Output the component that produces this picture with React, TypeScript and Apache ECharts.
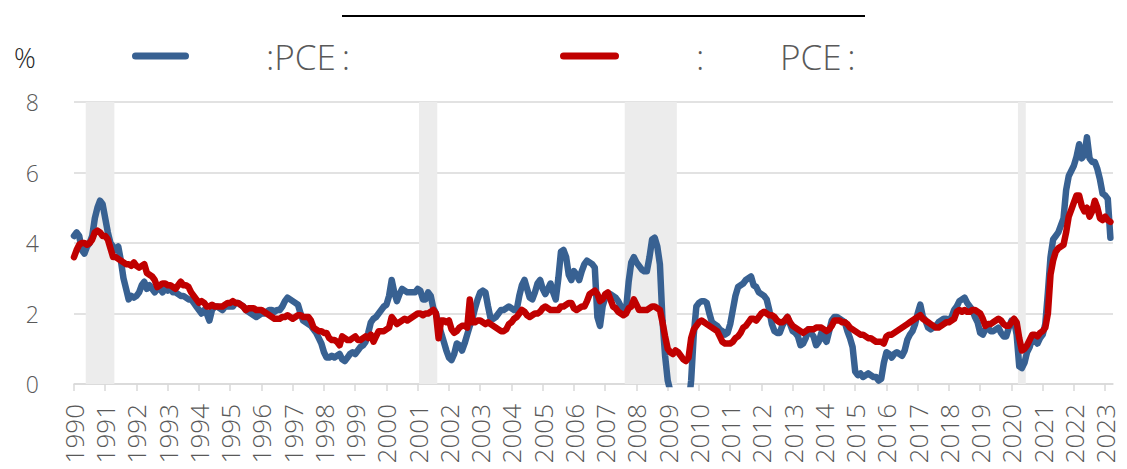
import React, { useEffect, useRef } from "react";
import * as echarts from "echarts";

const startYear = 1990;
const yearLabels = [
  "1990", "1991", "1992", "1993", "1994", "1995", "1996", "1997", "1998", "1999",
  "2000", "2001", "2002", "2003", "2004", "2005", "2006", "2007", "2008", "2009",
  "2010", "2011", "2012", "2013", "2014", "2015", "2016", "2017", "2018", "2019",
  "2020", "2021", "2022", "2023",
];
const yTicks = [0, 2, 4, 6, 8];

const seriesNames = [":PCE:", ":PCE:"];
const redLegendParts = [":", "PCE\u2009:"];

// monthly YoY, Jan 1990 .. Mar 2023
const pce = [
  4.2, 4.3, 4.2, 3.8, 3.7, 3.9, 4.0, 4.2, 4.7, 5.0, 5.2, 5.1,
  4.7, 4.3, 4.0, 3.9, 3.8, 3.9, 3.5, 3.0, 2.7, 2.4, 2.5, 2.45,
  2.5, 2.6, 2.8, 2.9, 2.7, 2.8, 2.7, 2.6, 2.7, 2.7, 2.6, 2.7,
  2.65, 2.7, 2.6, 2.6, 2.55, 2.5, 2.5, 2.45, 2.4, 2.4, 2.3, 2.2,
  2.1, 2.0, 2.1, 2.0, 1.8, 2.1, 2.2, 2.2, 2.15, 2.1, 2.2, 2.2,
  2.2, 2.2, 2.3, 2.3, 2.25, 2.2, 2.1, 2.05, 2.0, 1.95, 1.9, 1.95,
  2.0, 2.0, 2.05, 2.1, 2.1, 2.05, 2.1, 2.1, 2.2, 2.35, 2.45, 2.4,
  2.35, 2.3, 2.25, 2.0, 1.8, 1.75, 1.7, 1.65, 1.55, 1.45, 1.3, 1.15,
  0.9, 0.75, 0.75, 0.8, 0.75, 0.8, 0.85, 0.7, 0.65, 0.75, 0.85, 0.9,
  0.85, 0.95, 1.05, 1.1, 1.2, 1.45, 1.75, 1.85, 1.9, 2.0, 2.1, 2.2,
  2.25, 2.5, 2.95, 2.6, 2.35, 2.55, 2.7, 2.65, 2.6, 2.6, 2.6, 2.6,
  2.7, 2.65, 2.4, 2.4, 2.6, 2.5, 2.15, 2.0, 1.7, 1.45, 1.2, 0.95,
  0.75, 0.68, 0.85, 1.15, 1.1, 0.95, 1.15, 1.4, 1.65, 1.85, 2.15, 2.4,
  2.6, 2.65, 2.6, 2.2, 1.85, 1.85, 1.9, 2.0, 2.1, 2.1, 2.15, 2.2,
  2.15, 2.1, 2.1, 2.5, 2.8, 2.95, 2.7, 2.45, 2.4, 2.6, 2.85, 2.95,
  2.7, 2.55, 2.7, 2.85, 2.6, 2.4, 3.0, 3.75, 3.8, 3.6, 3.1, 2.95,
  3.2, 3.1, 2.95, 3.2, 3.4, 3.5, 3.45, 3.4, 3.3, 1.9, 1.65, 2.2,
  2.45, 2.5, 2.55, 2.5, 2.45, 2.35, 2.2, 2.0, 2.1, 2.9, 3.45, 3.6,
  3.45, 3.35, 3.25, 3.2, 3.2, 3.6, 4.1, 4.15, 3.9, 3.4, 1.8, 0.8,
  0.1, -0.2, -0.5, -0.6, -0.7, -0.6, -1.2, -1.0, -0.6, 0.1, 1.4, 2.2,
  2.3, 2.35, 2.35, 2.3, 2.0, 1.75, 1.7, 1.65, 1.55, 1.5, 1.4, 1.45,
  1.7, 2.1, 2.5, 2.75, 2.8, 2.85, 2.95, 3.0, 3.05, 2.8, 2.75, 2.6,
  2.55, 2.5, 2.4, 2.1, 1.7, 1.5, 1.45, 1.45, 1.65, 1.8, 1.9, 1.7,
  1.5, 1.45, 1.35, 1.1, 1.15, 1.3, 1.55, 1.45, 1.35, 1.1, 1.2, 1.45,
  1.3, 1.2, 1.5, 1.8, 1.9, 1.9, 1.85, 1.8, 1.75, 1.5, 1.3, 1.05,
  0.35, 0.25, 0.3, 0.2, 0.25, 0.3, 0.25, 0.2, 0.2, 0.1, 0.15, 0.6,
  0.9, 0.85, 0.75, 0.85, 0.9, 0.85, 0.8, 0.95, 1.25, 1.4, 1.5, 1.7,
  2.0, 2.25, 1.9, 1.8, 1.6, 1.55, 1.6, 1.65, 1.75, 1.8, 1.85, 1.85,
  1.8, 1.9, 2.1, 2.2, 2.35, 2.4, 2.45, 2.3, 2.2, 2.1, 1.9, 1.75,
  1.45, 1.4, 1.55, 1.6, 1.5, 1.5, 1.55, 1.6, 1.45, 1.35, 1.35, 1.6,
  1.8, 1.8, 1.4, 0.5, 0.45, 0.6, 0.9, 1.05, 1.3, 1.25, 1.15, 1.3,
  1.4, 1.7, 2.6, 3.6, 4.1, 4.2, 4.3, 4.5, 4.7, 5.5, 5.9, 6.05,
  6.2, 6.45, 6.8, 6.4, 6.5, 7.0, 6.4, 6.3, 6.3, 6.1, 5.8, 5.4,
  5.35, 5.25, 4.15,
];

const corePce = [
  3.6, 3.8, 3.95, 4.0, 4.0, 3.95, 4.0, 4.1, 4.3, 4.35, 4.3, 4.2,
  4.2, 4.1, 3.85, 3.6, 3.6, 3.55, 3.5, 3.45, 3.4, 3.4, 3.35, 3.45,
  3.35, 3.3, 3.35, 3.4, 3.15, 3.1, 3.05, 2.95, 2.75, 2.8, 2.85, 2.85,
  2.8, 2.8, 2.75, 2.7, 2.8, 2.9, 2.8, 2.8, 2.75, 2.6, 2.5, 2.4,
  2.3, 2.35, 2.3, 2.2, 2.2, 2.25, 2.2, 2.2, 2.2, 2.2, 2.25, 2.3,
  2.3, 2.35, 2.3, 2.3, 2.25, 2.2, 2.1, 2.15, 2.15, 2.15, 2.1, 2.1,
  2.1, 2.05, 2.0, 1.95, 1.9, 1.85, 1.85, 1.85, 1.9, 1.9, 1.95, 1.9,
  1.85, 1.9, 1.95, 1.95, 1.9, 1.9, 1.9, 1.8, 1.6, 1.55, 1.5, 1.5,
  1.45, 1.45, 1.3, 1.25, 1.25, 1.2, 1.1, 1.35, 1.3, 1.25, 1.25, 1.3,
  1.35, 1.25, 1.25, 1.3, 1.35, 1.3, 1.4, 1.2, 1.35, 1.5, 1.5, 1.5,
  1.55, 1.6, 1.9, 1.8, 1.7, 1.75, 1.8, 1.85, 1.8, 1.85, 1.9, 1.95,
  2.0, 2.0, 1.95, 2.0, 2.0, 2.05, 2.1, 2.0, 1.3, 1.8, 1.8, 1.75,
  1.8, 1.55, 1.45, 1.5, 1.6, 1.65, 1.65, 1.6, 2.4, 1.75, 1.75, 1.8,
  1.8, 1.75, 1.7, 1.75, 1.7, 1.65, 1.6, 1.55, 1.5, 1.5, 1.55, 1.7,
  1.75, 1.85, 1.9, 2.0, 2.1, 2.05, 1.95, 1.9, 1.95, 2.0, 2.0, 2.05,
  2.15, 2.2, 2.15, 2.1, 2.1, 2.1, 2.1, 2.2, 2.2, 2.25, 2.3, 2.3,
  2.15, 2.1, 2.15, 2.2, 2.2, 2.35, 2.55, 2.6, 2.65, 2.55, 2.35, 2.4,
  2.55, 2.6, 2.4, 2.2, 2.15, 2.05, 2.0, 1.95, 2.0, 2.15, 2.2, 2.4,
  2.25, 2.1, 2.1, 2.1, 2.1, 2.15, 2.2, 2.2, 2.15, 2.1, 1.75, 1.35,
  1.0, 0.9, 0.85, 0.95, 0.9, 0.8, 0.7, 0.65, 0.75, 1.3, 1.55, 1.65,
  1.75, 1.8, 1.75, 1.7, 1.65, 1.6, 1.55, 1.5, 1.35, 1.2, 1.15, 1.15,
  1.15, 1.2, 1.3, 1.35, 1.45, 1.6, 1.65, 1.75, 1.85, 1.85, 1.8, 1.9,
  2.0, 2.05, 2.0, 1.95, 1.95, 1.9, 1.8, 1.75, 1.75, 1.8, 1.9, 1.75,
  1.65, 1.6, 1.55, 1.5, 1.45, 1.5, 1.55, 1.55, 1.55, 1.6, 1.6, 1.6,
  1.55, 1.5, 1.55, 1.65, 1.8, 1.8, 1.8, 1.75, 1.75, 1.7, 1.6, 1.55,
  1.5, 1.45, 1.4, 1.4, 1.35, 1.3, 1.3, 1.25, 1.2, 1.2, 1.2, 1.15,
  1.35, 1.4, 1.4, 1.45, 1.5, 1.55, 1.6, 1.65, 1.7, 1.75, 1.8, 1.85,
  1.9, 1.95, 1.85, 1.8, 1.75, 1.7, 1.65, 1.6, 1.6, 1.65, 1.7, 1.75,
  1.75, 1.8, 1.85, 2.05, 2.1, 2.05, 2.1, 2.05, 2.05, 2.1, 2.1, 2.05,
  2.0, 1.85, 1.65, 1.7, 1.7, 1.75, 1.8, 1.85, 1.8, 1.7, 1.65, 1.65,
  1.75, 1.85, 1.75, 1.3, 0.95, 1.0, 1.1, 1.25, 1.4, 1.4, 1.35, 1.45,
  1.5, 1.6, 2.0, 3.1, 3.5, 3.75, 3.85, 3.9, 3.95, 4.3, 4.75, 4.95,
  5.15, 5.35, 5.35, 5.05, 4.9, 5.0, 4.75, 4.9, 5.2, 5.0, 4.7, 4.65,
  4.75, 4.65, 4.6,
];

// recession months (first, last)
const recessions = [
  ["1990-06", "1991-04"],
  ["2001-02", "2001-08"],
  ["2007-09", "2009-04"],
  ["2020-04", "2020-06"],
];

const monthIndex = (s: string) => {
  const [y, m] = s.split("-").map(Number);
  return (y - startYear) * 12 + (m - 1);
};

const FONT = "'Open Sans', 'Noto Sans', sans-serif";
const BLUE = "#386192";
const RED = "#C00000";

const legendText = (text: string, x: number) => ({
  type: "text",
  x,
  y: 56,
  style: {
    text,
    fontSize: 35,
    fontFamily: FONT,
    fontWeight: 300,
    fill: "#595959",
    verticalAlign: "middle",
  },
});

export default function App() {
  const ref = useRef<HTMLDivElement>(null);

  useEffect(() => {
    if (!ref.current) return;
    const chart = echarts.init(ref.current, undefined, { renderer: "svg" });
    const yearTicks = yearLabels.map((_, i) => i * 12);
    const toPairs = (arr: number[]) => arr.map((v, i) => [i, v]);

    chart.setOption({
      animation: false,
      backgroundColor: "#ffffff",
      grid: { left: 74, right: 14, top: 102, bottom: 85 },
      xAxis: {
        type: "value",
        min: 0,
        max: 399,
        interval: 12,
        axisLine: { show: true, lineStyle: { color: "#d9d9d9", width: 1.5 } },
        axisTick: {
          show: true,
          length: 7,
          customValues: yearTicks,
          lineStyle: { color: "#d9d9d9", width: 1.5 },
        },
        axisLabel: {
          customValues: yearTicks,
          rotate: 90,
          margin: 20,
          color: "#595959",
          fontSize: 26,
          fontFamily: FONT,
          fontWeight: 300,
          formatter: (v: number) => yearLabels[Math.round(v / 12)] ?? "",
        },
        splitLine: { show: false },
      },
      yAxis: {
        type: "value",
        min: 0,
        max: 8,
        interval: 2,
        axisLine: { show: false },
        axisTick: { show: false },
        axisLabel: {
          customValues: yTicks,
          margin: 35,
          color: "#595959",
          fontSize: 23,
          fontFamily: FONT,
          fontWeight: 300,
        },
        splitLine: { show: true, lineStyle: { color: "#d9d9d9", width: 1.5 } },
      },
      series: [
        {
          name: seriesNames[0],
          type: "line",
          data: toPairs(pce),
          showSymbol: false,
          clip: true,
          lineStyle: { color: BLUE, width: 6.5, cap: "round", join: "round" },
          itemStyle: { color: BLUE },
          z: 3,
        },
        {
          name: seriesNames[1],
          type: "line",
          data: toPairs(corePce),
          showSymbol: false,
          clip: false,
          lineStyle: { color: RED, width: 6.5, cap: "round", join: "round" },
          itemStyle: { color: RED },
          z: 4,
          markArea: {
            silent: true,
            itemStyle: { color: "#ececec" },
            data: recessions.map(([a, b]) => [
              { xAxis: monthIndex(a) - 0.5, yAxis: 0 },
              { xAxis: monthIndex(b) + 0.5, yAxis: 8.23 },
            ]),
          },
        },
      ],
      graphic: [
        {
          type: "line",
          shape: { x1: 342, y1: 16, x2: 865, y2: 16 },
          style: { stroke: "#000000", lineWidth: 2 },
        },
        {
          type: "text",
          x: 14,
          y: 57,
          style: {
            text: "%",
            fontSize: 27,
            fontFamily: FONT,
            fontWeight: 300,
            fill: "#262626",
            verticalAlign: "middle",
          },
        },
        {
          type: "line",
          shape: { x1: 135.5, y1: 56, x2: 185.5, y2: 56 },
          style: { stroke: BLUE, lineWidth: 7, lineCap: "round" },
        },
        legendText(":PCE\u2009:", 266),
        {
          type: "line",
          shape: { x1: 563.5, y1: 56, x2: 615.5, y2: 56 },
          style: { stroke: RED, lineWidth: 7, lineCap: "round" },
        },
        legendText(redLegendParts[0], 696),
        legendText(redLegendParts[1], 780),
      ],
    });

    return () => chart.dispose();
  }, []);

  return (
    <div
      ref={ref}
      style={{ position: "fixed", left: 0, top: 0, width: 1127, height: 469, background: "#fff" }}
    />
  );
}
